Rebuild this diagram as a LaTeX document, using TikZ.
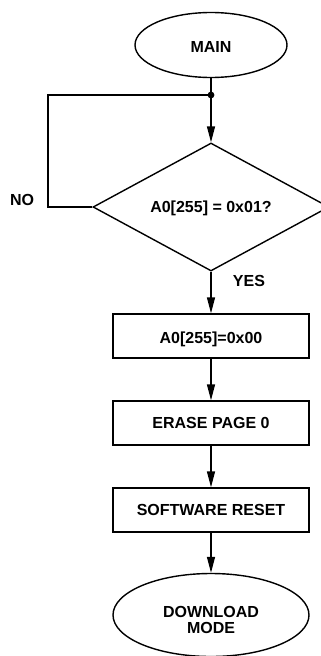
\documentclass[tikz,border=0pt]{standalone}
\usepackage{fontspec}
\setmainfont{Liberation Sans}
\usetikzlibrary{shapes.geometric,arrows.meta}
\newcommand\lowr[2]{\raisebox{-#1}[\height][\depth]{#2}}
\begin{document}
\begin{tikzpicture}[x=1pt,y=-1pt,
  every node/.style={font=\fontsize{16}{15.5}\selectfont\bfseries, align=center},
  term/.style={draw, ellipse, line width=1.4pt, inner sep=0pt},
  procbox/.style={draw, rectangle, line width=1.4pt, minimum width=196pt, minimum height=44pt, inner sep=0pt},
  decis/.style={draw, diamond, line width=1.4pt, inner sep=0pt, aspect=1.84, minimum width=236pt, minimum height=128pt},
  conn/.style={line width=1.4pt},
  arr/.style={conn, -{Triangle[length=16pt,width=8pt]}},
  lbl/.style={inner sep=0pt}
]
\useasboundingbox (0,0) rectangle (321,656);
\node[term, minimum width=152pt, minimum height=65pt] (main) at (211,45) {\lowr{2pt}{MAIN}};
\coordinate (j) at (211,95);
\coordinate (c) at (48,95);
\node[decis] (dia) at (211,207) {\lowr{1.5pt}{A0[255] = 0x01?}};
\node[procbox] (b1) at (211,336) {\lowr{3.5pt}{A0[255]=0x00}};
\node[procbox] (b2) at (211,423) {ERASE PAGE 0};
\node[procbox] (b3) at (211,510) {SOFTWARE RESET};
\node[term, minimum width=196pt, minimum height=83pt] (dl) at (211,615) {\lowr{7pt}{\begin{tabular}{@{}c@{}}DOWNLOAD\\MODE\end{tabular}}};
\node[lbl] (no) at (22,200) {NO};
\node[lbl] (yes) at (249,281) {YES};
\draw[conn] (main.south) -- (j);
\draw[arr] (j) -- (dia.north);
\draw[conn] (dia.west) -| (c) -- (j);
\fill (j) circle (3.4pt);
\draw[arr] (dia.south) -- (b1.north);
\draw[arr] (b1.south) -- (b2.north);
\draw[arr] (b2.south) -- (b3.north);
\draw[arr] (b3.south) -- (dl.north);
\end{tikzpicture}
\end{document}
